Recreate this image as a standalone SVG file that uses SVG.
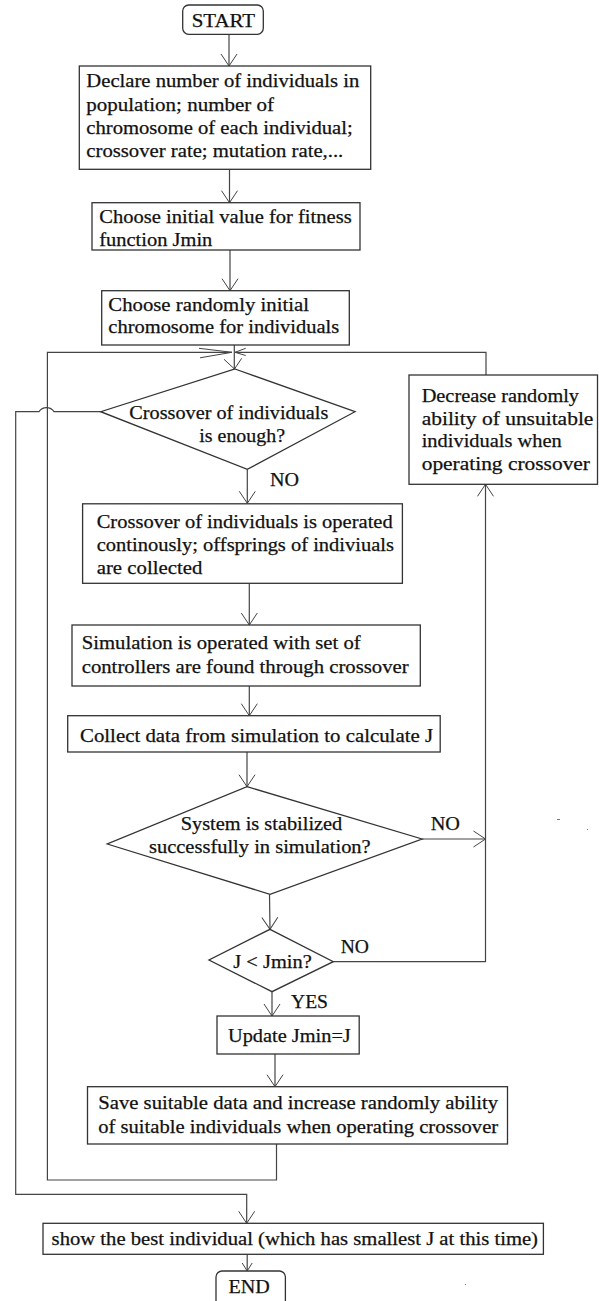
<svg xmlns="http://www.w3.org/2000/svg" width="599" height="1301" viewBox="0 0 599 1301">
<style>
.box{fill:#fff;stroke:#333;stroke-width:1.3}
.ln{fill:none;stroke:#444;stroke-width:1.2}
.ah{fill:none;stroke:#444;stroke-width:1}
text{stroke:#111;stroke-width:0.25}
</style>
<defs>
<marker id="arr" viewBox="-1 -1 14 18" refX="12" refY="8" markerWidth="14" markerHeight="18" markerUnits="userSpaceOnUse" orient="auto" overflow="visible">
<path d="M0,0 L12,8 L0,16" fill="none" stroke="#444" stroke-width="1"/>
</marker>
<marker id="arrs" viewBox="-1 -1 10 12" refX="8" refY="5" markerWidth="10" markerHeight="12" markerUnits="userSpaceOnUse" orient="auto" overflow="visible">
<path d="M0,0 L8,5 L0,10" fill="none" stroke="#444" stroke-width="1"/>
</marker>
</defs>
<rect x="0" y="0" width="599" height="1301" fill="#fff"/>

<g font-family="Liberation Serif" font-size="19" fill="#111">

<g id="connectors">
<path class="ln" d="M229,34.3 V66" marker-end="url(#arr)"/>
<path class="ln" d="M229.5,169.3 V202.7" marker-end="url(#arr)"/>
<path class="ln" d="M230,250 V290.7" marker-end="url(#arr)"/>
<path class="ln" d="M234.3,344.5 V369"/>
<polyline class="ah" points="224,359.3 234.5,369 241.7,358.3"/>
<path class="ln" d="M486,375 V352.3 H235"/>
<polyline class="ah" points="245.7,348.3 235,352.3 245.7,355.5"/>
<path class="ln" d="M276.5,1144 V1180 H47.4 V352.3 H232"/>
<polyline class="ah" points="199,348.3 232,352.3 200,357.8"/>
<path class="ln" d="M247.3,469.3 V503.3" marker-end="url(#arr)"/>
<path class="ln" d="M249.3,583.3 V625" marker-end="url(#arr)"/>
<path class="ln" d="M249.3,686 V715.7" marker-end="url(#arr)"/>
<path class="ln" d="M247,752 V786.7" marker-end="url(#arr)"/>
<path class="ln" d="M422,839 H485.5" marker-end="url(#arr)"/>
<path class="ln" d="M269.5,894.3 L270,929.3" marker-end="url(#arr)"/>
<path class="ln" d="M333.3,961.7 H485.5 V484.3" marker-end="url(#arr)"/>
<path class="ln" d="M272,991.7 V1016" marker-end="url(#arr)"/>
<path class="ln" d="M275,1054 V1086.7" marker-end="url(#arr)"/>
<path class="ln" d="M100.7,411.7 H54 A9,9 0 0 0 39,411.7 H15.7 V1194.3 H246.7 V1223.3" marker-end="url(#arr)"/>
<path class="ln" d="M247.2,1254.3 V1271" marker-end="url(#arrs)"/>
<text x="270" y="485.7" textLength="29" lengthAdjust="spacingAndGlyphs">NO</text>
<text x="430.7" y="830" textLength="29.3" lengthAdjust="spacingAndGlyphs">NO</text>
<text x="340.7" y="953.3" textLength="28.3" lengthAdjust="spacingAndGlyphs">NO</text>
<text x="291" y="1008.3" textLength="37" lengthAdjust="spacingAndGlyphs">YES</text>
</g>

<g id="start">
<rect class="box" x="182.7" y="5" width="80.6" height="29.3" rx="6"/>
<text x="191.7" y="26.7" textLength="63.3" lengthAdjust="spacingAndGlyphs">START</text>
</g>

<g id="declare">
<rect class="box" x="79.3" y="66" width="291.4" height="103.3"/>
<text x="86.3" y="87.3" textLength="273" lengthAdjust="spacingAndGlyphs">Declare number of individuals in</text>
<text x="86.3" y="110.7" textLength="187.7" lengthAdjust="spacingAndGlyphs">population; number of</text>
<text x="86.3" y="134" textLength="266.4" lengthAdjust="spacingAndGlyphs">chromosome of each individual;</text>
<text x="86.3" y="157.3" textLength="257" lengthAdjust="spacingAndGlyphs">crossover rate; mutation rate,...</text>
</g>

<g id="init-jmin">
<rect class="box" x="92" y="202.7" width="268" height="47.3"/>
<text x="99.3" y="223.3" textLength="252.4" lengthAdjust="spacingAndGlyphs">Choose initial value for fitness</text>
<text x="99.3" y="245.7" textLength="113" lengthAdjust="spacingAndGlyphs">function Jmin</text>
</g>

<g id="init-chrom">
<rect class="box" x="101.7" y="290.7" width="247.6" height="54.3"/>
<text x="108.3" y="310.7" textLength="200.7" lengthAdjust="spacingAndGlyphs">Choose randomly initial</text>
<text x="108.3" y="333.3" textLength="231" lengthAdjust="spacingAndGlyphs">chromosome for individuals</text>
</g>

<g id="crossover-enough">
<polygon class="box" points="235,369 355,411.7 247.3,469.3 100.7,411.7"/>
<text x="129.3" y="419" textLength="199" lengthAdjust="spacingAndGlyphs">Crossover of individuals</text>
<text x="199.3" y="441.7" textLength="85.7" lengthAdjust="spacingAndGlyphs">is enough?</text>
</g>

<g id="decrease">
<rect class="box" x="409" y="375" width="188.5" height="109.3"/>
<text x="421.7" y="401.7" textLength="157.3" lengthAdjust="spacingAndGlyphs">Decrease randomly</text>
<text x="421.7" y="424.5" textLength="171.7" lengthAdjust="spacingAndGlyphs">ability of unsuitable</text>
<text x="421.7" y="447" textLength="140" lengthAdjust="spacingAndGlyphs">individuals when</text>
<text x="421.7" y="469.5" textLength="168.3" lengthAdjust="spacingAndGlyphs">operating crossover</text>
</g>

<g id="crossover-op">
<rect class="box" x="82.6" y="503.8" width="319.8" height="79.5"/>
<text x="96.7" y="527.7" textLength="296" lengthAdjust="spacingAndGlyphs">Crossover of individuals is operated</text>
<text x="96.7" y="551" textLength="297.3" lengthAdjust="spacingAndGlyphs">continously; offsprings of indiviuals</text>
<text x="96.7" y="574.3" textLength="105.6" lengthAdjust="spacingAndGlyphs">are collected</text>
</g>

<g id="simulation">
<rect class="box" x="72" y="625" width="348.3" height="61"/>
<text x="81.7" y="649.3" textLength="279" lengthAdjust="spacingAndGlyphs">Simulation is operated with set of</text>
<text x="81.7" y="672.7" textLength="327" lengthAdjust="spacingAndGlyphs">controllers are found through crossover</text>
</g>

<g id="collect">
<rect class="box" x="67.7" y="715.7" width="372.5" height="36.3"/>
<text x="80" y="741.7" textLength="353" lengthAdjust="spacingAndGlyphs">Collect data from simulation to calculate J</text>
</g>

<g id="stabilized">
<polygon class="box" points="247,786.7 422,839 270,894.3 107.3,844"/>
<text x="180.7" y="830" textLength="161.6" lengthAdjust="spacingAndGlyphs">System is stabilized</text>
<text x="149" y="853.3" textLength="221.7" lengthAdjust="spacingAndGlyphs">successfully in simulation?</text>
</g>

<g id="j-less">
<polygon class="box" points="270,929.3 333.3,961.7 272,991.7 209,960"/>
<text x="233.3" y="968.3" textLength="78.4" lengthAdjust="spacingAndGlyphs">J &lt; Jmin?</text>
</g>

<g id="update">
<rect class="box" x="217" y="1016" width="142.2" height="38"/>
<text x="228" y="1041.7" textLength="122.8" lengthAdjust="spacingAndGlyphs">Update Jmin=J</text>
</g>

<g id="save">
<rect class="box" x="87.5" y="1086.7" width="420" height="57.3"/>
<text x="98.2" y="1109.3" textLength="400" lengthAdjust="spacingAndGlyphs">Save suitable data and increase randomly ability</text>
<text x="98.2" y="1132.7" textLength="400" lengthAdjust="spacingAndGlyphs">of suitable individuals when operating crossover</text>
</g>

<g id="show">
<rect class="box" x="43" y="1223.3" width="500.4" height="31"/>
<text x="51.6" y="1245" textLength="486.4" lengthAdjust="spacingAndGlyphs">show the best individual (which has smallest J at this time)</text>
</g>

<g id="end">
<rect class="box" x="216" y="1271" width="69.4" height="40" rx="6"/>
<text x="228.5" y="1293.3" textLength="41.3" lengthAdjust="spacingAndGlyphs">END</text>
</g>

<g id="specks" stroke="#777" stroke-width="1">
<line x1="557" y1="819.5" x2="560" y2="819.5"/>
<line x1="587" y1="829.5" x2="588" y2="829.5"/>
<line x1="465" y1="1284.5" x2="466" y2="1284.5"/>
</g>
</g>
</svg>
